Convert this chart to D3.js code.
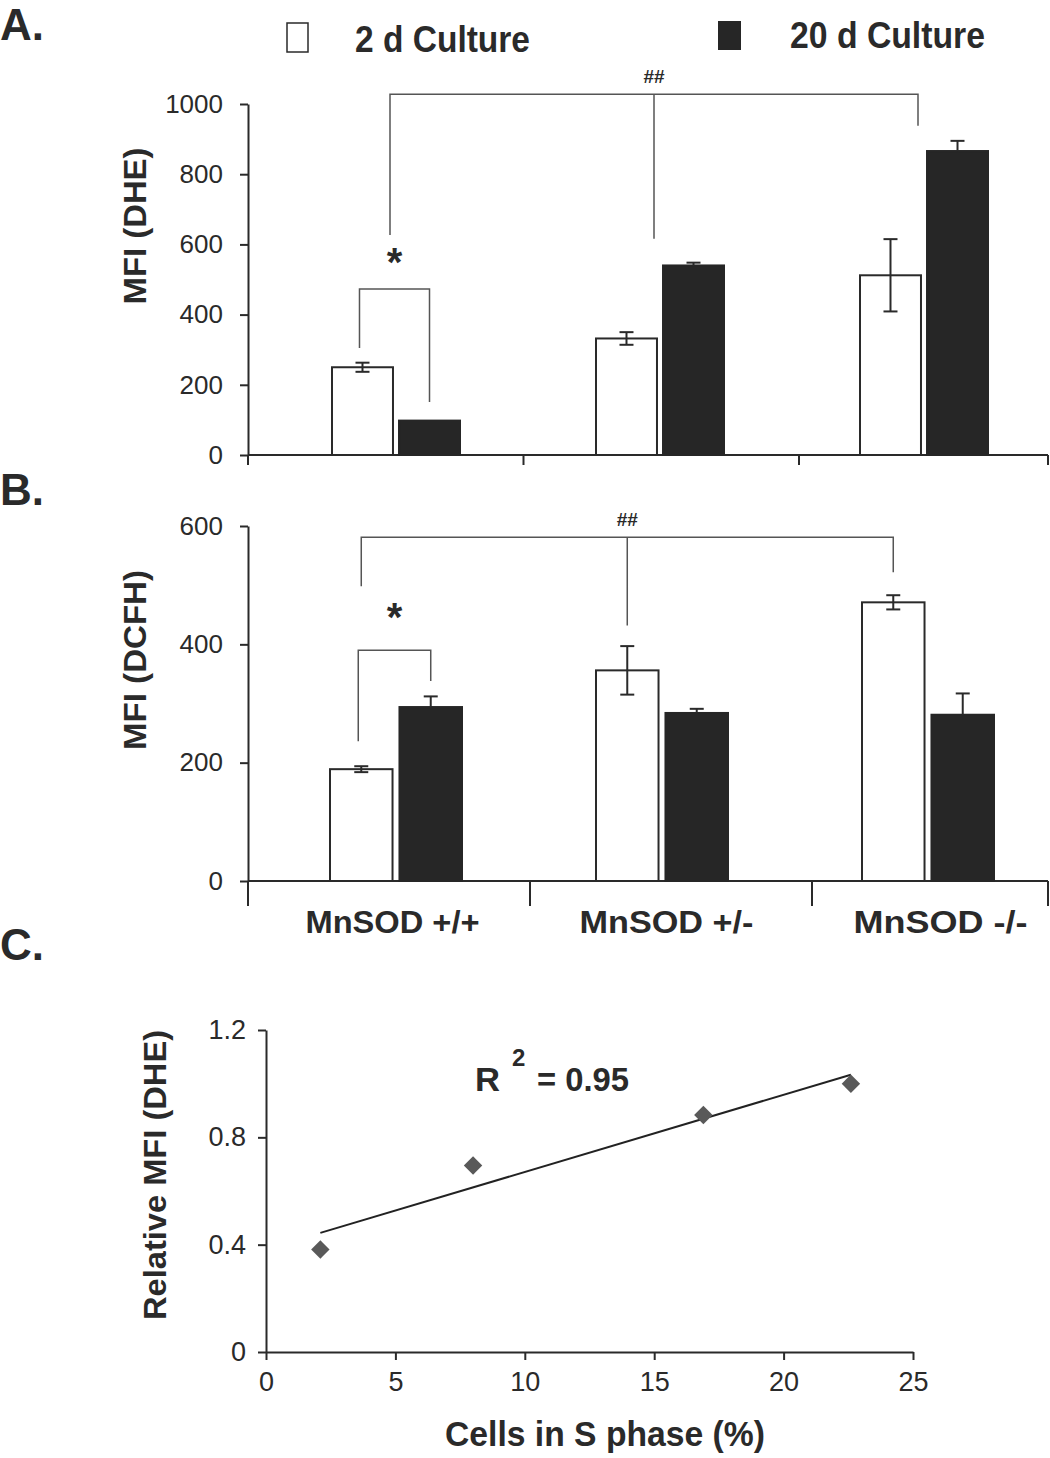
<!DOCTYPE html>
<html><head><meta charset="utf-8">
<script src="https://cdn.jsdelivr.net/npm/d3@7"></script>
<style>
body{margin:0;background:#fff}
svg{display:block}
text{fill:#2a2a2a}
.reg{font-family:'Liberation Sans',Arial,sans-serif}
</style>
</head><body>
<script>
// ---------- DATA ----------
const categories = ["MnSOD +/+", "MnSOD +/-", "MnSOD -/-"];
const series = ["2 d Culture", "20 d Culture"];
// Panel A: MFI (DHE)
const dheDay2 = [250, 332, 512];
const dheDay2Err = [13, 18, 103];
const dheDay20 = [98, 540, 866];
const dheDay20Err = [0, 8, 29];
// Panel B: MFI (DCFH)
const dcfhDay2 = [189, 356, 471];
const dcfhDay2Err = [5, 41, 12];
const dcfhDay20 = [294, 284, 281];
const dcfhDay20Err = [18, 7, 36];
// Panel C
const sPhase = [2.1, 8.0, 16.9, 22.6];
const relMFI = [0.382, 0.695, 0.883, 1.0];
const r2Label = "0.95";
// tick labels
const yTicksA = [0, 200, 400, 600, 800, 1000];
const yTicksB = [0, 200, 400, 600];
const xTicksC = [0, 5, 10, 15, 20, 25];
const yTicksC = [0, 0.4, 0.8, 1.2];
// significance brackets (values in data units)
const bracketsA = [
  {label: "*", type: "pair", cat: 0, yLeft: 305, yTop: 473, yRight: 151, yText: 555},
  {label: "##", type: "triple", yTop: 1028, legs: [627, 616, 938]}
];
const bracketsB = [
  {label: "*", type: "pair", cat: 0, yLeft: 236, yTop: 390, yRight: 338, yText: 450},
  {label: "##", type: "tripleWhite", yTop: 581, legs: [498, 432, 522]}
];

// ---------- DRAW ----------
const W = 1050, H = 1458;
const svg = d3.select("body").append("svg").attr("width", W).attr("height", H);
const ink = "#2a2a2a", barBlack = "#262626", lineGray = "#555";

// panel letters
[["A.", 40], ["B.", 505], ["C.", 960]].forEach(([t, y]) => {
  svg.append("text").attr("class", "reg").attr("x", 0).attr("y", y)
    .attr("font-size", 44).attr("font-weight", "bold").text(t);
});

// legend
const leg = svg.append("g");
leg.append("rect").attr("x", 287).attr("y", 23).attr("width", 21).attr("height", 29)
  .attr("fill", "#fff").attr("stroke", ink).attr("stroke-width", 1.5);
leg.append("text").attr("class", "reg").attr("x", 355).attr("y", 52).attr("font-size", 36)
  .attr("font-weight", "bold").attr("textLength", 175).attr("lengthAdjust", "spacingAndGlyphs").text(series[0]);
leg.append("rect").attr("x", 718).attr("y", 21).attr("width", 23).attr("height", 29).attr("fill", barBlack);
leg.append("text").attr("class", "reg").attr("x", 790).attr("y", 48).attr("font-size", 36)
  .attr("font-weight", "bold").attr("textLength", 195).attr("lengthAdjust", "spacingAndGlyphs").text(series[1]);

function barPanel(opts) {
  const {yDomain, yRange, yTicks, d2, d2e, d20, d20e, barRange, subHalf, subPad,
         sepStart, sepStep, sepLen, axisEnd, yLabel, yLabelX, yLabelLen, brackets, catX} = opts;
  const g = svg.append("g");
  const y = d3.scaleLinear().domain(yDomain).range(yRange);
  const x = d3.scaleBand().domain(categories).range(barRange);
  const sub = d3.scaleBand().domain(series).range([-subHalf, subHalf]).paddingInner(subPad);
  const sep = d3.scaleBand().domain(categories).range([sepStart, sepStart + 3 * sepStep]);
  const cx = c => x(c) + x.bandwidth() / 2;
  const bx = (c, s) => cx(c) + sub(s);
  const bc = (c, s) => bx(c, s) + sub.bandwidth() / 2;

  // y axis
  const ax = g.append("g").attr("transform", `translate(${sepStart},0)`)
    .call(d3.axisLeft(y).tickValues(yTicks).tickSize(8).tickSizeOuter(0).tickPadding(17).tickFormat(d3.format("d")));
  ax.select(".domain").attr("stroke", ink).attr("stroke-width", 2);
  ax.selectAll(".tick line").attr("stroke", ink).attr("stroke-width", 2);
  ax.selectAll(".tick text").attr("class", "reg").attr("font-size", 26).attr("fill", ink);

  // x axis line + separators
  const y0 = y(0);
  g.append("line").attr("x1", sepStart).attr("x2", axisEnd).attr("y1", y0).attr("y2", y0)
    .attr("stroke", ink).attr("stroke-width", 2);
  const seps = categories.map(c => sep(c)).concat([axisEnd]);
  g.selectAll(".sep").data(seps).join("line").attr("x1", d => d).attr("x2", d => d)
    .attr("y1", y0).attr("y2", y0 + sepLen).attr("stroke", ink).attr("stroke-width", 2);

  // bars
  const rows = [];
  categories.forEach((c, i) => {
    rows.push({c, s: series[0], v: d2[i], e: d2e[i]});
    rows.push({c, s: series[1], v: d20[i], e: d20e[i]});
  });
  g.selectAll(".bar").data(rows).join("rect")
    .attr("x", d => bx(d.c, d.s)).attr("width", sub.bandwidth())
    .attr("y", d => y(d.v)).attr("height", d => y0 - y(d.v))
    .attr("fill", d => d.s === series[0] ? "#fff" : barBlack)
    .attr("stroke", d => d.s === series[0] ? ink : barBlack).attr("stroke-width", 2);
  // error bars
  const eg = g.selectAll(".err").data(rows.filter(d => d.e > 0)).join("g");
  eg.append("line").attr("x1", d => bc(d.c, d.s)).attr("x2", d => bc(d.c, d.s))
    .attr("y1", d => y(d.v + d.e)).attr("y2", d => d.s === series[0] ? y(d.v - d.e) : y(d.v))
    .attr("stroke", ink).attr("stroke-width", 2);
  eg.append("line").attr("x1", d => bc(d.c, d.s) - 7).attr("x2", d => bc(d.c, d.s) + 7)
    .attr("y1", d => y(d.v + d.e)).attr("y2", d => y(d.v + d.e)).attr("stroke", ink).attr("stroke-width", 2);
  eg.filter(d => d.s === series[0]).append("line")
    .attr("x1", d => bc(d.c, d.s) - 7).attr("x2", d => bc(d.c, d.s) + 7)
    .attr("y1", d => y(d.v - d.e)).attr("y2", d => y(d.v - d.e)).attr("stroke", ink).attr("stroke-width", 2);

  // brackets
  brackets.forEach(b => {
    const path = d3.path();
    if (b.type === "pair") {
      const c = categories[b.cat];
      const xl = bc(c, series[0]) - 3, xr = bc(c, series[1]);
      path.moveTo(xl, y(b.yLeft)); path.lineTo(xl, y(b.yTop)); path.lineTo(xr, y(b.yTop)); path.lineTo(xr, y(b.yRight));
      g.append("path").attr("d", path.toString()).attr("fill", "none").attr("stroke", lineGray).attr("stroke-width", 1.5);
      g.append("text").attr("class", "reg").attr("x", (xl + xr) / 2).attr("y", y(b.yText) + 16)
        .attr("text-anchor", "middle")
        .attr("font-size", 40).attr("font-weight", "bold").text(b.label);
    } else {
      const xs = categories.map(c => b.type === "triple" ? cx(c) - 6 : bc(c, series[0]));
      path.moveTo(xs[0], y(b.legs[0])); path.lineTo(xs[0], y(b.yTop)); path.lineTo(xs[2], y(b.yTop)); path.lineTo(xs[2], y(b.legs[2]));
      path.moveTo(xs[1], y(b.yTop)); path.lineTo(xs[1], y(b.legs[1]));
      g.append("path").attr("d", path.toString()).attr("fill", "none").attr("stroke", lineGray).attr("stroke-width", 1.5);
      g.append("text").attr("class", "reg").attr("x", xs[1]).attr("y", y(b.yTop) - 11)
        .attr("text-anchor", "middle").attr("font-size", 19).attr("font-weight", "bold").text(b.label);
    }
  });

  // y label
  const ym = (yRange[0] + yRange[1]) / 2;
  g.append("text").attr("class", "reg").attr("transform", `translate(${yLabelX},${opts.yLabelY || ym}) rotate(-90)`)
    .attr("text-anchor", "middle").attr("dominant-baseline", "central")
    .attr("font-size", 31).attr("font-weight", "bold")
    .attr("textLength", yLabelLen).attr("lengthAdjust", "spacingAndGlyphs").text(yLabel);

  if (catX) {
    g.selectAll(".cat").data(categories).join("text").attr("class", "reg")
      .attr("x", c => (sep(c) + sep.bandwidth() / 2 + cx(c)) / 2).attr("y", 933)
      .attr("text-anchor", "middle").attr("font-size", 32).attr("font-weight", "bold")
      .attr("textLength", 174).attr("lengthAdjust", "spacingAndGlyphs").text(c => c);
  }
}

barPanel({yDomain: [0, 1000], yRange: [455, 104], yTicks: yTicksA,
  d2: dheDay2, d2e: dheDay2Err, d20: dheDay20, d20e: dheDay20Err,
  barRange: [264, 1056], subHalf: 64, subPad: 0.09,
  sepStart: 248, sepStep: 275.5, sepLen: 10, axisEnd: 1048,
  yLabel: "MFI (DHE)", yLabelX: 135, yLabelY: 226, yLabelLen: 157, brackets: bracketsA, catX: false});

barPanel({yDomain: [0, 600], yRange: [881, 526], yTicks: yTicksB,
  d2: dcfhDay2, d2e: dcfhDay2Err, d20: dcfhDay20, d20e: dcfhDay20Err,
  barRange: [263, 1061], subHalf: 66, subPad: 0.1,
  sepStart: 248, sepStep: 282, sepLen: 25, axisEnd: 1048,
  yLabel: "MFI (DCFH)", yLabelX: 135, yLabelY: 660, yLabelLen: 180, brackets: bracketsB, catX: true});

// ---------- Panel C ----------
const gc = svg.append("g");
const xC = d3.scaleLinear().domain([0, 25]).range([266, 913]);
const yC = d3.scaleLinear().domain([0, 1.2]).range([1352, 1030]);
const axY = gc.append("g").attr("transform", "translate(266,0)")
  .call(d3.axisLeft(yC).tickValues(yTicksC).tickSize(8).tickSizeOuter(0).tickPadding(12).tickFormat(d => d === 0 ? "0" : d3.format(".1f")(d)));
const axX = gc.append("g").attr("transform", "translate(0,1352)")
  .call(d3.axisBottom(xC).tickValues(xTicksC).tickSize(8).tickSizeOuter(0).tickPadding(12));
[axY, axX].forEach(a => {
  a.select(".domain").attr("stroke", ink).attr("stroke-width", 2);
  a.selectAll(".tick line").attr("stroke", ink).attr("stroke-width", 2);
  a.selectAll(".tick text").attr("class", "reg").attr("font-size", 27).attr("fill", ink);
});

// regression trend line
const mx = d3.mean(sPhase), my = d3.mean(relMFI);
const sxy = d3.sum(sPhase.map((v, i) => (v - mx) * (relMFI[i] - my)));
const sxx = d3.sum(sPhase.map(v => (v - mx) * (v - mx)));
const slope = sxy / sxx, icpt = my - slope * mx;
const x1 = d3.min(sPhase), x2 = d3.max(sPhase);
gc.append("line").attr("x1", xC(x1)).attr("x2", xC(x2))
  .attr("y1", yC(icpt + slope * x1)).attr("y2", yC(icpt + slope * x2))
  .attr("stroke", "#222").attr("stroke-width", 2);

const sq = d3.symbol().type(d3.symbolSquare).size(170);
gc.selectAll(".pt").data(sPhase.map((v, i) => [v, relMFI[i]])).join("path")
  .attr("d", sq).attr("transform", d => `translate(${xC(d[0])},${yC(d[1])}) rotate(45)`)
  .attr("fill", "#595959");

// R^2 label
gc.append("text").attr("class", "reg").attr("x", 475).attr("y", 1091).attr("font-size", 33)
  .attr("font-weight", "bold").attr("textLength", 25).attr("lengthAdjust", "spacingAndGlyphs").text("R");
gc.append("text").attr("class", "reg").attr("x", 512).attr("y", 1066).attr("font-size", 24)
  .attr("font-weight", "bold").text("2");
gc.append("text").attr("class", "reg").attr("x", 537).attr("y", 1091).attr("font-size", 33)
  .attr("font-weight", "bold").attr("textLength", 92).attr("lengthAdjust", "spacingAndGlyphs").text("= " + r2Label);

// axis labels
gc.append("text").attr("class", "reg").attr("x", 605).attr("y", 1446).attr("text-anchor", "middle")
  .attr("font-size", 35).attr("font-weight", "bold").attr("textLength", 320).attr("lengthAdjust", "spacingAndGlyphs")
  .text("Cells in S phase (%)");
gc.append("text").attr("class", "reg").attr("transform", "translate(155,1175) rotate(-90)")
  .attr("text-anchor", "middle").attr("dominant-baseline", "central")
  .attr("font-size", 31).attr("font-weight", "bold").attr("textLength", 290).attr("lengthAdjust", "spacingAndGlyphs")
  .text("Relative MFI (DHE)");
</script>
</body></html>
